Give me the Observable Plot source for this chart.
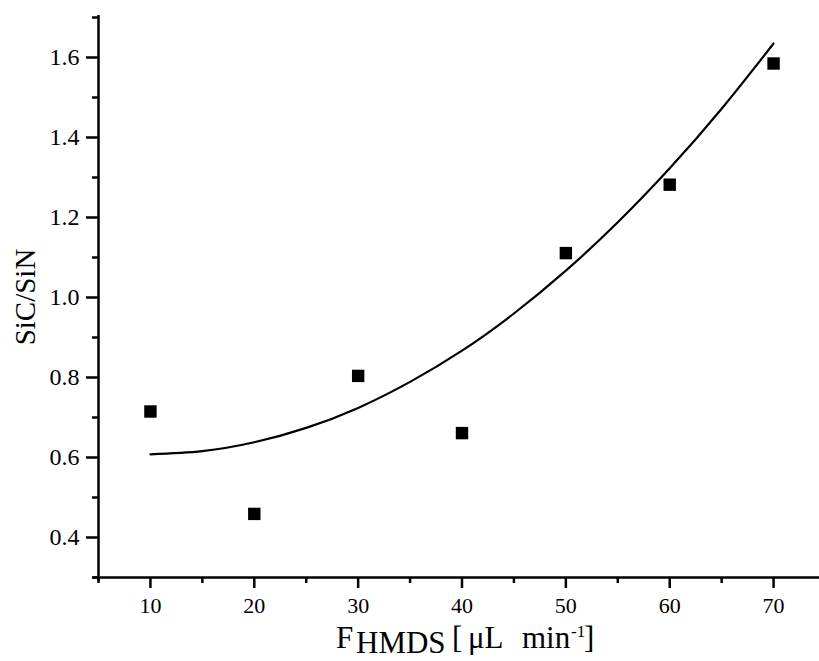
<!DOCTYPE html>
<html>
<head>
<meta charset="utf-8">
<script src="https://cdn.jsdelivr.net/npm/d3@7"></script>
<script src="https://cdn.jsdelivr.net/npm/@observablehq/plot@0.6"></script>
<style>
  html, body { margin: 0; padding: 0; background: #ffffff; }
  #chart { width: 819px; height: 661px; overflow: hidden; }
  svg { font-family: "Liberation Serif", "DejaVu Serif", serif; color: #000; }
</style>
</head>
<body>
<div id="chart"></div>
<script>
// Measured data points
const flow = [10, 20, 30, 40, 50, 60, 70];
const ratio = [0.715, 0.459, 0.804, 0.661, 1.111, 1.282, 1.585];

// Fitted curve
const fitX = [10, 15, 20, 25, 30, 35, 40, 45, 50, 55, 60, 65, 70];
const fitY = [0.608, 0.616, 0.638, 0.674, 0.724, 0.789, 0.867, 0.960, 1.067, 1.188, 1.323, 1.472, 1.635];

// Ticks
const xMajor = [10, 20, 30, 40, 50, 60, 70];
const xMinor = [5, 15, 25, 35, 45, 55, 65, 75];
const yMajor = [0.4, 0.6, 0.8, 1.0, 1.2, 1.4, 1.6];
const yMinor = [0.3, 0.5, 0.7, 0.9, 1.1, 1.3, 1.5, 1.7];

const points = flow.map((x, i) => ({x, y: ratio[i]}));
const fit = fitX.map((x, i) => ({x, y: fitY[i]}));

const plot = Plot.plot({
  width: 819,
  height: 661,
  marginLeft: 98,
  marginRight: 0,
  marginTop: 15,
  marginBottom: 84,
  style: {background: "#ffffff", color: "#000", fontFamily: "'Liberation Serif', serif"},
  x: {domain: [5, 75], range: [98, 825]},
  y: {domain: [0.3, 1.7], range: [577, 17]},
  marks: [
    Plot.axisX({ticks: xMajor, tickSize: 11, tickPadding: 9, fontSize: 22, strokeWidth: 2.5, tickFormat: d => String(d), label: null}),
    Plot.axisX({ticks: xMinor, tickSize: 6, strokeWidth: 2.5, tickFormat: () => "", label: null}),
    Plot.axisY({ticks: yMajor, tickSize: 12, tickPadding: 7, fontSize: 24, strokeWidth: 2.5, tickFormat: d3.format(".1f"), label: null}),
    Plot.axisY({ticks: yMinor, tickSize: 6, strokeWidth: 2.5, tickFormat: () => "", label: null}),
    Plot.ruleX([5], {y1: 0.29, y2: 1.705, stroke: "#000", strokeWidth: 2.5}),
    Plot.ruleY([0.3], {x1: 4.5, x2: 75, stroke: "#000", strokeWidth: 2.5}),
    Plot.line(fit, {x: "x", y: "y", stroke: "#000", strokeWidth: 2.2, curve: "natural"}),
    Plot.dot(points, {x: "x", y: "y", symbol: "square", r: 7, fill: "#000", stroke: "none"})
  ]
});

document.getElementById("chart").appendChild(plot);

const svg = d3.select(plot);
// Y axis label
svg.append("text")
  .attr("transform", "translate(35,297) rotate(-90)")
  .attr("text-anchor", "middle")
  .attr("font-size", 29)
  .attr("fill", "#000")
  .text("SiC/SiN");

// X axis label with subscript / superscript
const xl = svg.append("text")
  .attr("y", 648)
  .attr("text-anchor", "start")
  .attr("font-size", 31)
  .attr("fill", "#000");
xl.append("tspan").attr("x", 336).text("F");
xl.append("tspan").attr("x", 356).attr("dy", 5).text("HMDS");
xl.append("tspan").attr("x", 452).attr("dy", -5).text("[");
xl.append("tspan").attr("x", 468).text("μL");
xl.append("tspan").attr("x", 522).text("min");
xl.append("tspan").attr("x", 571).attr("dy", -11).attr("font-size", 17).text("-1");
xl.append("tspan").attr("x", 584).attr("dy", 11).text("]");
</script>
</body>
</html>
